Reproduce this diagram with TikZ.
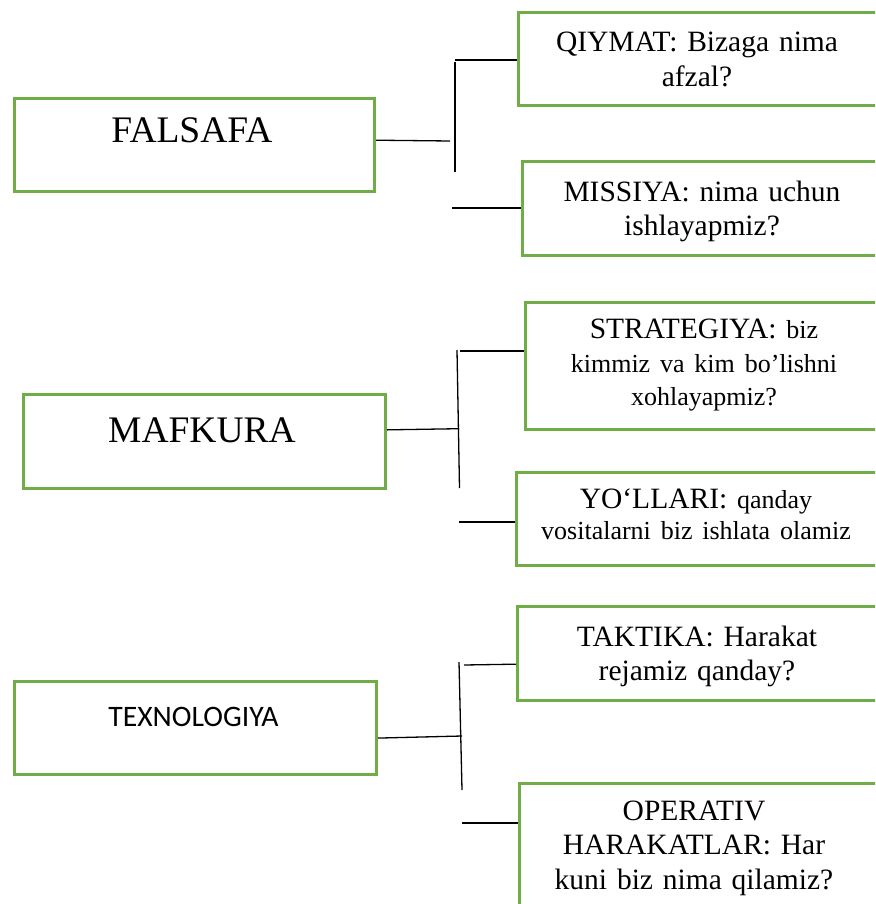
\documentclass[tikz,border=0pt]{standalone}
\usepackage{fontspec}
\setmainfont{Liberation Serif}
\newfontfamily\calibrifont{Carlito}
\usetikzlibrary{calc}

\definecolor{boxgreen}{HTML}{70AD47}

% font sizes used in the chart
\newcommand{\bigtitle}{\fontsize{37.5}{42}\selectfont}
\newcommand{\boxtext}{\fontsize{29.5}{34.5}\selectfont}
\newcommand{\smalltext}{\fontsize{26}{31}\selectfont}

\begin{document}
\begin{tikzpicture}[x=1pt,y=-1pt,
  frame/.style={draw=boxgreen, line width=3pt, fill=white, inner sep=0pt,
                anchor=north west, minimum width=#1},
  frame/.default=360pt,
  label/.style={anchor=base, inner sep=0pt, align=center, text width=350pt},
  link/.style={draw=black, line width=1.3pt}]

\useasboundingbox (0,0) rectangle (875,904);
\clip (0,0) rectangle (875,904);

% ---------- left-hand boxes ----------
\node[frame, minimum height=93pt] (fal) at (13,97) {};
\node[label, font=\bigtitle] (falT) at (192,143) {FALSAFA};

\node[frame=362pt, minimum height=94pt] (maf) at (22,393) {};
\node[label, font=\bigtitle] (mafT) at (202,442) {MAFKURA};

\node[frame=362pt, minimum height=93pt] (tex) at (13,680) {};
\node[label, font=\calibrifont\fontsize{29.7}{35}\selectfont] (texT) at (193.5,726) {TEXNOLOGIYA};

% ---------- right-hand boxes ----------
\node[frame=362pt, minimum height=93pt] (qiy) at (517,11) {};
\node[label, font=\boxtext] (qiyT) at (697,52) {QIYMAT: Bizaga nima\\afzal?};

\node[frame=362pt, minimum height=94pt] (mis) at (521,160) {};
\node[label, font=\boxtext] (misT) at (702,201) {MISSIYA: nima uchun\\ishlayapmiz?};

\node[frame=362pt, minimum height=127pt] (str) at (524,301) {};
\node[label, font=\boxtext] (strT) at (704,338)
  {STRATEGIYA: {\smalltext biz}\\{\smalltext kimmiz va kim bo’lishni}\\[-2pt]{\smalltext xohlayapmiz?}};

\node[frame=362pt, minimum height=93pt] (yol) at (515,471) {};
\node[label, font=\boxtext] (yolT) at (696,508)
  {YO‘LLARI: {\smalltext qanday}\\[-3pt]{\smalltext vositalarni biz ishlata olamiz}};

\node[frame=362pt, minimum height=94pt] (tak) at (516,605) {};
\node[label, font=\boxtext] (takT) at (697,646) {TAKTIKA: Harakat\\rejamiz qanday?};

\node[frame=362pt, minimum height=140pt] (ope) at (518,782) {};
\node[label, font=\boxtext] (opeT) at (694,820) {OPERATIV\\HARAKATLAR: Har\\kuni biz nima qilamiz?};

% ---------- connector end points ----------
\coordinate (f-out) at ($(fal.north east)!0.45!(fal.south east)$);
\coordinate (f-in)  at (450,141);
\coordinate (f-top) at (455,62);
\coordinate (f-bot) at (455,172);
\coordinate (q-in)  at (455,60);
\coordinate (m-in)  at (452,208);

\coordinate (m-out) at ($(maf.north east)!0.38!(maf.south east)$);
\coordinate (m-mid) at (459,428.7);
\coordinate (m-top) at (457,350);
\coordinate (m-bot) at (459.5,488);
\coordinate (s-in)  at (460,351);
\coordinate (y-in)  at (459,522);

\coordinate (t-out) at ($(tex.north east)!0.605!(tex.south east)$);
\coordinate (t-mid) at (462,736);
\coordinate (t-top) at (459,662);
\coordinate (t-bot) at (462,790);
\coordinate (k-in)  at (464,665);
\coordinate (o-in)  at (462,823);

% ---------- connectors: FALSAFA ----------
\draw[link] (f-out) -- (f-in);
\draw[link] (f-top) -- (f-bot);
\draw[link] (q-in) -- (q-in -| qiy.west);
\draw[link] (m-in) -- (m-in -| mis.west);

% ---------- connectors: MAFKURA ----------
\draw[link] (m-out) -- (m-mid);
\draw[link] (m-top) -- (m-bot);
\draw[link] (s-in) -- (s-in -| str.west);
\draw[link] (y-in) -- (y-in -| yol.west);

% ---------- connectors: TEXNOLOGIYA ----------
\draw[link] (t-out) -- (t-mid);
\draw[link] (t-top) -- (t-bot);
\draw[link] (k-in) -- ($(tak.north west)!0.61!(tak.south west)$);
\draw[link] (o-in) -- (o-in -| ope.west);

\end{tikzpicture}
\end{document}
